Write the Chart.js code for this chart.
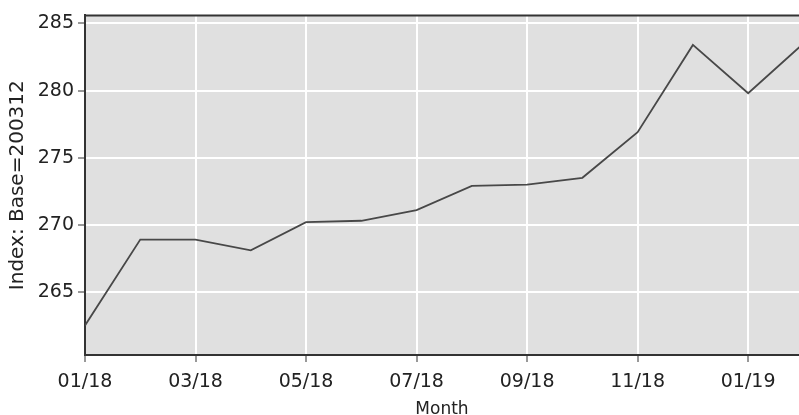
<!DOCTYPE html>
<html>
<head>
<meta charset="utf-8">
<script src="https://cdn.jsdelivr.net/npm/chart.js@4"></script>
<style>
  html, body { margin: 0; padding: 0; background: #fff; }
  #wrap { width: 799px; height: 415px; }
</style>
</head>
<body>
<div id="wrap"><canvas id="index-chart" width="799" height="415"></canvas></div>
<script>
// months shown on the x axis (one point per month)
const months = ['01/18', '02/18', '03/18', '04/18', '05/18', '06/18', '07/18',
                '08/18', '09/18', '10/18', '11/18', '12/18', '01/19', '02/19'];

// index values, base = 200312
const indexValues = [262.5, 268.9, 268.9, 268.1, 270.2, 270.3, 271.1,
                     272.9, 273.0, 273.5, 276.9, 283.4, 279.8, 283.5];

const yTicks = [265, 270, 275, 280, 285];

// grey plot background + dark top border
const plotBackground = {
    id: 'plotBackground',
    beforeDraw(chart) {
        const {ctx, chartArea} = chart;
        ctx.save();
        ctx.fillStyle = '#e0e0e0';
        ctx.fillRect(chartArea.left, chartArea.top, chartArea.right - chartArea.left, chartArea.bottom - chartArea.top);
        ctx.restore();
    },
    afterDraw(chart) {
        const {ctx, chartArea} = chart;
        ctx.save();
        ctx.strokeStyle = '#333';
        ctx.lineWidth = 2;
        ctx.beginPath();
        ctx.moveTo(chartArea.left, chartArea.top);
        ctx.lineTo(chartArea.right, chartArea.top);
        ctx.stroke();
        ctx.restore();
    }
};

const canvas = document.querySelector('#index-chart');

new Chart(canvas.getContext('2d'), {
    type: 'line',
    data: {
        datasets: [{
            label: 'Index',
            data: months.map((m, i) => ({x: i, y: indexValues[i]})),
            borderColor: '#484848',
            borderWidth: 1.8,
            pointRadius: 0,
            tension: 0
        }]
    },
    options: {
        responsive: false,
        animation: false,
        layout: {padding: {top: 15, right: 0, left: 0, bottom: 0}},
        plugins: {legend: {display: false}, tooltip: {enabled: false}},
        scales: {
            x: {
                type: 'linear',
                min: 0,
                max: 12.92,
                afterBuildTicks: scale => { scale.ticks = [0, 2, 4, 6, 8, 10, 12].map(v => ({value: v})); },
                afterFit: scale => { scale.height = 60; },
                ticks: {
                    callback: v => months[v],
                    color: '#222',
                    font: {family: 'DejaVu Sans', size: 19},
                    maxRotation: 0,
                    padding: 9
                },
                grid: {color: '#ffffff', lineWidth: 2, tickColor: '#333', tickLength: 7, tickWidth: 1},
                border: {color: '#333', width: 2},
                title: {
                    display: true,
                    text: 'Month',
                    color: '#222',
                    font: {family: 'DejaVu Sans', size: 17},
                    padding: {top: 0, bottom: -5}
                }
            },
            y: {
                min: 260.3,
                max: 285.6,
                afterBuildTicks: scale => { scale.ticks = yTicks.map(v => ({value: v})); },
                afterFit: scale => { scale.width = 85; },
                ticks: {
                    color: '#222',
                    font: {family: 'DejaVu Sans', size: 19},
                    padding: 4
                },
                grid: {color: '#ffffff', lineWidth: 2, tickColor: '#333', tickLength: 7, tickWidth: 1},
                border: {color: '#333', width: 2},
                title: {
                    display: true,
                    text: 'Index: Base=200312',
                    color: '#222',
                    font: {family: 'DejaVu Sans', size: 20},
                    padding: {top: 6, bottom: 0}
                }
            }
        }
    },
    plugins: [plotBackground]
});
</script>
</body>
</html>
